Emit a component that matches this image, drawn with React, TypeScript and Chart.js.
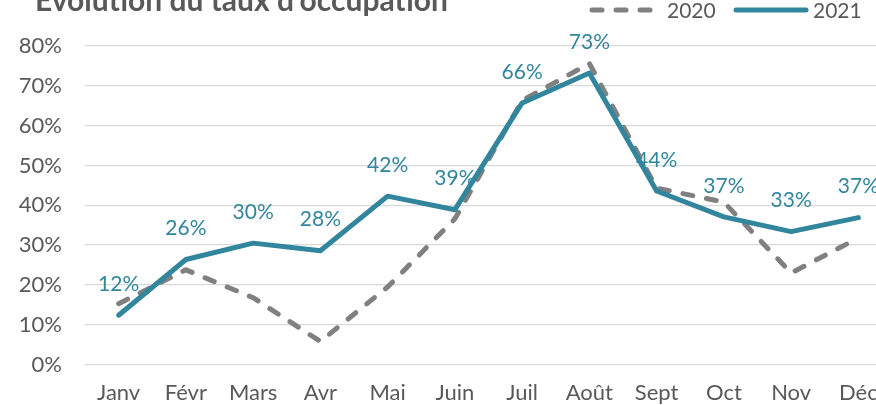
import React, { useEffect, useRef } from "react";
import { Chart, registerables } from "chart.js";

Chart.register(...registerables);

const months = ["Janv", "Févr", "Mars", "Avr", "Mai", "Juin", "Juil", "Août", "Sept", "Oct", "Nov", "Déc"];
const values2020 = [15.3, 23.8, 16.8, 5.8, 19.5, 36.6, 66.3, 75.6, 44.3, 40.8, 23.0, 31.8];
const values2021 = [12.4, 26.4, 30.5, 28.6, 42.3, 38.9, 65.7, 73.2, 43.6, 37.1, 33.4, 36.9];
const labels2021 = ["12%", "26%", "30%", "28%", "42%", "39%", "66%", "73%", "44%", "37%", "33%", "37%"];
const yTicks = [0, 10, 20, 30, 40, 50, 60, 70, 80];
const seriesNames = ["2020", "2021"];
const titleText = "Évolution du taux d'occupation";

const TEAL = "#31859C";
const GRAY = "#808080";
const TEXT = "#595959";
const FONT = "Lato, 'DejaVu Sans', sans-serif";

const overlayPlugin = {
  id: "overlay",
  beforeDatasetsDraw(chart: any) {
    const ctx = chart.ctx;
    const meta = chart.getDatasetMeta(1);
    ctx.save();
    ctx.font = `21px ${FONT}`;
    ctx.fillStyle = TEAL;
    ctx.textAlign = "center";
    ctx.textBaseline = "middle";
    meta.data.forEach((pt: any, i: number) => {
      ctx.fillText(labels2021[i], pt.x, pt.y - 31);
    });
    ctx.restore();
  },
  afterDraw(chart: any) {
    const ctx = chart.ctx;
    ctx.save();
    ctx.font = `bold 30px ${FONT}`;
    ctx.fillStyle = TEXT;
    ctx.textAlign = "left";
    ctx.textBaseline = "alphabetic";
    ctx.fillText(titleText, 35, 11);
    const items = [
      { x0: 592, x1: 653, tx: 667, ds: chart.data.datasets[0] },
      { x0: 736, x1: 806, tx: 813, ds: chart.data.datasets[1] },
    ];
    const y = 10;
    items.forEach((it) => {
      ctx.beginPath();
      ctx.setLineDash(it.ds.borderDash || []);
      ctx.lineCap = it.ds.borderCapStyle || "butt";
      ctx.lineWidth = it.ds.borderWidth;
      ctx.strokeStyle = it.ds.borderColor;
      ctx.moveTo(it.x0, y);
      ctx.lineTo(it.x1, y);
      ctx.stroke();
      ctx.setLineDash([]);
      ctx.font = `21px ${FONT}`;
      ctx.fillStyle = TEXT;
      ctx.textBaseline = "middle";
      ctx.fillText(it.ds.label, it.tx, y + 1);
    });
    ctx.restore();
  },
};

export default function App() {
  const ref = useRef<HTMLCanvasElement>(null);
  useEffect(() => {
    if (!ref.current) return;
    const chart = new Chart(ref.current, {
      type: "line",
      data: {
        labels: months,
        datasets: [
          {
            label: seriesNames[0],
            data: values2020,
            borderColor: GRAY,
            backgroundColor: GRAY,
            borderWidth: 5,
            borderDash: [10, 14],
            borderCapStyle: "round",
            borderJoinStyle: "round",
            pointRadius: 0,
            tension: 0,
            order: 2,
          },
          {
            label: seriesNames[1],
            data: values2021,
            borderColor: TEAL,
            backgroundColor: TEAL,
            borderWidth: 5,
            borderCapStyle: "round",
            borderJoinStyle: "round",
            pointRadius: 0,
            tension: 0,
            order: 1,
          },
        ],
      },
      options: {
        animation: false,
        responsive: false,
        devicePixelRatio: 1,
        layout: { padding: { top: 46, right: 8, left: 0, bottom: 0 } },
        plugins: {
          legend: { display: false },
          title: { display: false },
          tooltip: { enabled: false },
        },
        scales: {
          x: {
            offset: true,
            grid: { display: false, drawTicks: false },
            border: { display: false },
            ticks: {
              color: TEXT,
              font: { family: FONT, size: 22 },
              padding: 15,
              maxRotation: 0,
              autoSkip: false,
            },
          },
          y: {
            min: 0,
            max: 80,
            afterFit(scale: any) {
              scale.width = 85;
            },
            afterBuildTicks(scale: any) {
              scale.ticks = yTicks.map((v) => ({ value: v }));
            },
            grid: { color: "#D9D9D9", lineWidth: 1.3, drawTicks: false },
            border: { display: false },
            ticks: {
              color: TEXT,
              font: { family: FONT, size: 22 },
              padding: 23,
              callback: (v: any) => `${v}%`,
            },
          },
        },
      },
      plugins: [overlayPlugin],
    });
    return () => chart.destroy();
  }, []);
  return (
    <div style={{ position: "fixed", left: 0, top: 0, width: 876, height: 405, overflow: "hidden", background: "#fff" }}>
      <canvas ref={ref} width={900} height={421} style={{ display: "block", width: 900, height: 421 }} />
    </div>
  );
}
